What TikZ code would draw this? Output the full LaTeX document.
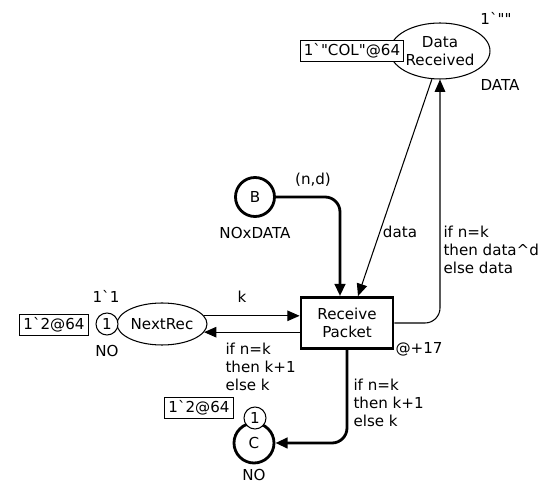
\documentclass[tikz,border=0pt]{standalone}
\usepackage{fontspec}
\setmainfont{DejaVu Sans}[Ligatures=TeXOff]
\usetikzlibrary{arrows.meta, positioning, shapes.geometric}

\begin{document}
\begin{tikzpicture}[x=0.02cm, y=-0.02cm, line width=0.6pt,
    every node/.style={font=\fontsize{8.6}{10.3}\selectfont, inner sep=0pt},
    place/.style={draw, ellipse, fill=white},
    bigplace/.style={draw, circle, line width=1.6pt, minimum size=0.8cm},
    token/.style={draw, circle, fill=white, minimum size=0.44cm},
    marking/.style={draw, fill=white, inner sep=2pt},
    trans/.style={draw, rectangle, line width=1.6pt, minimum width=1.84cm, minimum height=1.02cm, align=center},
    arc/.style={-{Triangle[length=7pt, width=6pt]}, rounded corners=0.3cm},
    thickarc/.style={arc, line width=1.6pt}]
				\useasboundingbox (0,0) rectangle (549,486);

				% Places and the transition
				\node[place, minimum width=2cm, minimum height=1.12cm, align=center] (DataRec) at (440,51) {Data\\Received};
				\node[bigplace, minimum size=0.78cm] (B) at (255,197) {B};
				\node[trans] (Receive) at (347,323) {Receive\\Packet};
				\node[place, minimum width=1.8cm, minimum height=0.84cm] (NextRec) at (162,324) {NextRec};
				\node[bigplace] (C) at (254,443) {C};

				% Colour sets, initial and current markings
				\node (dataInit) at (496,18) {1`""};
				\node[marking] (dataMark) at (352,51) {1`"COL"@64};
				\node (dataType) at (500,85) {DATA};
				\node (bType) at (255,233) {NOxDATA};
				\node[token] (nextTok) at (107,324) {1};
				\node (nextInit) at (106,296) {1`1};
				\node[marking] (nextMark) at (54,325) {1`2@64};
				\node (nextType) at (107,351) {NO};
				\node[token] (cTok) at (255,418) {1};
				\node[marking] (cMark) at (199,408) {1`2@64};
				\node (cType) at (254,475) {NO};
				\node (delay) at (419,349) {@+17};

				% Draw the arcs
				\draw[thickarc] (B.east) -| ([xshift=-0.14cm]Receive.north);
				\draw[arc] (DataRec.-106) -- ([xshift=0.22cm]Receive.north);
				\draw[arc] (Receive.east) -| (DataRec.south);
				\draw[arc] (NextRec.11) -- (Receive.west |- NextRec.11);
				\draw[arc] (Receive.west |- NextRec.-11) -- (NextRec.-11);
				\draw[thickarc] (Receive.south) |- (C.east);

				% Arc inscriptions
				\node (bIns) at (313,180) {(n,d)};
				\node (dataIns) at (400,232) {data};
				\node[anchor=west, align=left] (dataOut) at (443,250) {if n=k\\then data\textasciicircum d\\else data};
				\node (kIns) at (242,297) {k};
				\node[anchor=west, align=left] (nextOut) at (225,367) {if n=k\\then k+1\\else k};
				\node[anchor=west, align=left] (cOut) at (353,403) {if n=k\\then k+1\\else k};
			\end{tikzpicture}
\end{document}
